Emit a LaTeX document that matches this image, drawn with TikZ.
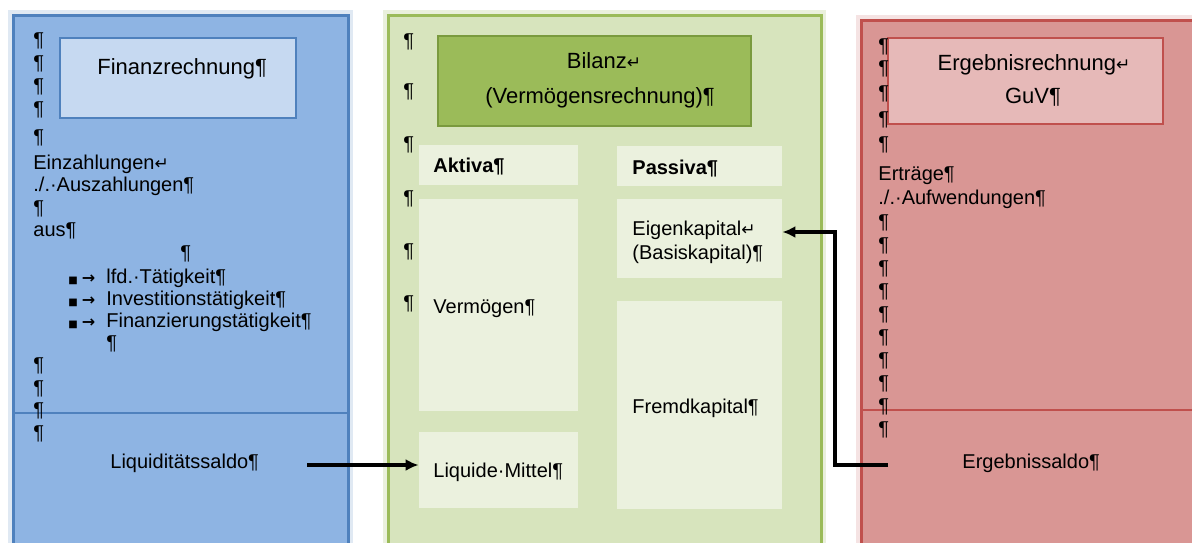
\documentclass[tikz,border=0pt]{standalone}
\usepackage{fontspec}
\setmainfont{Liberation Sans}
\newfontfamily\symfont{DejaVu Sans}
\usetikzlibrary{arrows.meta}
\definecolor{finfill}{HTML}{8EB4E3}
\definecolor{finline}{HTML}{4F81BD}
\definecolor{finhead}{HTML}{C6D9F1}
\definecolor{bilfill}{HTML}{D7E4BD}
\definecolor{billine}{HTML}{9BBB59}
\definecolor{bilhead}{HTML}{9BBB59}
\definecolor{bilhline}{HTML}{7A9A3E}
\definecolor{bilpart}{HTML}{EBF1DE}
\definecolor{ergfill}{HTML}{D99694}
\definecolor{ergline}{HTML}{C0504D}
\definecolor{erghead}{HTML}{E6B9B8}
\newcommand{\retm}{{\symfont\fontsize{8.5}{8}\selectfont ↵}}
\newcommand{\pil}{¶}
\newcommand{\bul}{\makebox[19pt][l]{{\symfont\fontsize{5}{5}\selectfont ■}\hspace{2pt}{\symfont\fontsize{8}{8}\selectfont\bfseries →}}}

\begin{document}
\begin{tikzpicture}[x=0.5pt,y=-0.5pt,font=\fontsize{10}{12}\selectfont,
  txt/.style={anchor=base west},
  ttl/.style={anchor=base,font=\fontsize{11}{13}\selectfont},
  glow/.style={line width=5pt,opacity=0.35},
  headbox/.style={draw,line width=1pt},
  partbox/.style={fill=bilpart,draw=none},
  arr/.style={-{Latex[length=6.5pt,width=6pt]},line width=1.7pt}]
\tikzstyle{every node}+=[inner sep=0pt]
\clip (0,0) rectangle (1192,542);
\fill[white] (0,0) rectangle (1192,542);
\draw[glow,draw=finline!50] (13,15) rectangle (348,570);
\draw[glow,draw=billine!60] (388,15) rectangle (821,570);
\draw[glow,draw=ergline!45] (861,20) rectangle (1220,570);
\draw[fill=finfill,draw=finline,line width=1.5pt] (13,15) rectangle (348,570);
\draw[fill=bilfill,draw=billine,line width=1.5pt] (388,15) rectangle (821,570);
\draw[fill=ergfill,draw=ergline,line width=1.5pt] (861,20) rectangle (1220,570);
\draw[finline,line width=1pt] (13,413) -- (348,413);
\draw[ergline,line width=1pt] (861,410) -- (1220,410);

\node[headbox,fill=finhead,draw=finline,minimum width=118pt,minimum height=40pt] (finbox) at (178,78) {};
\node[headbox,fill=bilhead,draw=bilhline,minimum width=156.5pt,minimum height=45pt] (bilbox) at (594.5,81) {};
\node[headbox,fill=erghead,draw=ergline,minimum width=137.5pt,minimum height=43pt] (ergbox) at (1025.5,81) {};
\node[partbox,minimum width=79.5pt,minimum height=20pt] (akbox) at (498.5,165) {};
\node[partbox,minimum width=82.5pt,minimum height=20pt] (pabox) at (699.5,166) {};
\node[partbox,minimum width=79.5pt,minimum height=106pt] (vmbox) at (498.5,305) {};
\node[partbox,minimum width=82.5pt,minimum height=39.5pt] (ekbox) at (699.5,238.5) {};
\node[partbox,minimum width=82.5pt,minimum height=104pt] (fkbox) at (699.5,405) {};
\node[partbox,minimum width=79.5pt,minimum height=38pt] (lmbox) at (498.5,470) {};

\foreach \y in {46,69,92,115,143,214,371.5,394,416.5,439}
  \node[txt] (fp\y) at (33,\y) {\pil};
\node[txt] (einz) at (33,169) {Einzahlungen\retm};
\node[txt] (ausz) at (33,191.5) {./.·Auszahlungen\pil};
\node[txt] (aus) at (33,236.5) {aus\pil};
\node[txt] (fpc) at (180,259) {\pil};
\node[txt] (lfd) at (68,283) {\bul lfd.·Tätigkeit\pil};
\node[txt] (inv) at (68,305) {\bul Investitionstätigkeit\pil};
\node[txt] (fin) at (68,327) {\bul Finanzierungstätigkeit\pil};
\node[txt] (fpl) at (106,349) {\pil};
\node[ttl,anchor=base west] (finlbl) at (97,74) {Finanzrechnung\pil};
\node[txt] (lsaldo) at (110,468) {Liquiditätssaldo\pil};

\foreach \y in {47,97,150,204,257,309}
  \node[txt] (bp\y) at (403,\y) {\pil};
\node[ttl] (bil1) at (604,68) {Bilanz\retm};
\node[ttl] (bil2) at (600,103) {(Vermögensrechnung)\pil};
\node[txt,font=\fontsize{10}{12}\selectfont\bfseries] (aktiva) at (433,172) {Aktiva\pil};
\node[txt,font=\fontsize{10}{12}\selectfont\bfseries] (passiva) at (632,174) {Passiva\pil};
\node[txt] (vermoegen) at (433,313) {Vermögen\pil};
\node[txt] (ek1) at (632,235) {Eigenkapital\retm};
\node[txt] (ek2) at (632,259) {(Basiskapital)\pil};
\node[txt] (fk) at (632,413) {Fremdkapital\pil};
\node[txt] (lm) at (433,477) {Liquide·Mittel\pil};

\foreach \y in {52,74,99,125,150,228,251,274,297,320,343,366,389,412,435}
  \node[txt] (ep\y) at (878,\y) {\pil};
\node[txt] (ertr) at (878,180) {Erträge\pil};
\node[txt] (aufw) at (878,204) {./.·Aufwendungen\pil};
\node[ttl] (erg1) at (1034,70) {Ergebnisrechnung\retm};
\node[ttl] (erg2) at (1033,103) {GuV\pil};
\node[txt] (esaldo) at (962,468) {Ergebnissaldo\pil};

\coordinate (lstart) at (307,465);
\coordinate (estart) at (888,465);
\coordinate (eturn) at (835,232);
\draw[arr] (lstart) -- (lstart -| lmbox.west);
\draw[arr] (estart) -| (eturn) -- (eturn -| ekbox.east);
\end{tikzpicture}
\end{document}
